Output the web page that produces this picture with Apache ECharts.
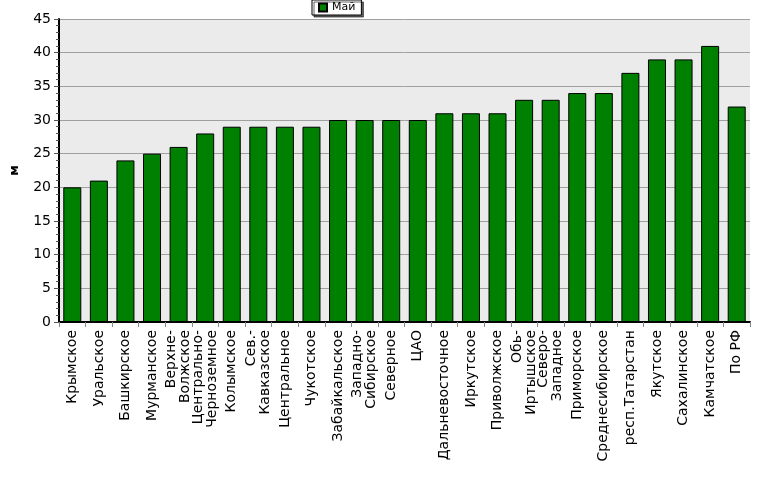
<!DOCTYPE html><html><head><meta charset="utf-8"><script src="https://cdn.jsdelivr.net/npm/echarts@6/dist/echarts.min.js"></script></head><body style="margin:0"><div id="c" style="width:777px;height:479px"></div><script>
const categories=["Крымское","Уральское","Башкирское","Мурманское","Верхне-\nВолжское","Центрально-\nЧерноземное","Колымское","Сев.-\nКавказское","Центральное","Чукотское","Забайкальское","Западно-\nСибирское","Северное","ЦАО","Дальневосточное","Иркутское","Приволжское","Обь-\nИртышское","Северо-\nЗападное","Приморское","Среднесибирское","респ.Татарстан","Якутское","Сахалинское","Камчатское","По РФ"];
const values=[20,21,24,25,26,28,29,29,29,29,30,30,30,30,31,31,31,33,33,34,34,37,39,39,41,32];
const chart=echarts.init(document.getElementById('c'));
chart.setOption({
 animation:false,
 legend:{top:0,left:312,itemWidth:8,itemHeight:8,icon:'rect',borderColor:'#000',borderWidth:1,padding:[2,6],itemGap:4,
  shadowColor:'rgba(0,0,0,0.6)',shadowOffsetX:2,shadowOffsetY:2,shadowBlur:0,backgroundColor:'#fff',
  textStyle:{fontFamily:'DejaVu Sans',fontSize:11,color:'#000'}},
 grid:{left:52,right:27,top:19,bottom:157,backgroundColor:'#ebebeb',show:true,borderWidth:0},
 xAxis:{type:'category',data:categories,axisLine:{lineStyle:{color:'#000',width:2}},axisTick:{show:true,lineStyle:{color:'#888'}},
  axisLabel:{rotate:90,interval:0,fontFamily:'DejaVu Sans',fontSize:14,color:'#000',lineHeight:14}},
 yAxis:{type:'value',min:0,max:45,interval:5,name:'м',nameLocation:'middle',nameGap:38,
  nameTextStyle:{fontWeight:'bold',fontSize:13,color:'#000',fontFamily:'DejaVu Sans'},
  axisLine:{show:true,lineStyle:{color:'#000',width:2}},axisTick:{show:true,lineStyle:{color:'#555'}},
  minorTick:{show:true,splitNumber:5,lineStyle:{color:'#555'}},
  splitLine:{lineStyle:{color:'#a0a0a0'}},
  axisLabel:{fontFamily:'DejaVu Sans',fontSize:14,color:'#000'}},
 series:[{name:'Май',type:'bar',data:values,barWidth:18,itemStyle:{color:'#008000',borderColor:'#000',borderWidth:1}}]
});
</script></body></html>
